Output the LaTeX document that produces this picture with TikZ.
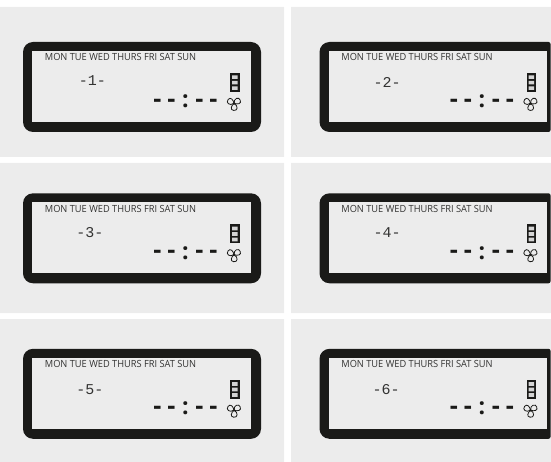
\documentclass[tikz,border=0pt]{standalone}
\usepackage{fontspec}
\setmainfont{Open Sans}
\newfontfamily\monof{Liberation Mono}
\definecolor{panelgray}{HTML}{ECECEC}
\definecolor{lcdblack}{HTML}{1A1A18}
\definecolor{lcdtext}{HTML}{333332}
\definecolor{cellgray}{HTML}{D4D4D4}
\tikzset{
  days/.style={inner sep=0pt,text=lcdtext,anchor=west},
  modeno/.style={inner sep=0pt,text=lcdtext,font=\monof\fontsize{15}{16}\selectfont},
  clocktext/.style={inner sep=0pt,text=lcdblack,anchor=base},
  blade/.style={draw=lcdblack,line width=0.8pt,fill=panelgray},
}
% #1 x offset, #2 y offset, #3 label, #4 label x, #5 label y, #6 outer right, #7 right radius, #8 name
\newcommand{\lcdunit}[8]{%
  \begin{scope}[shift={(#1,#2)}]
    \fill[lcdblack] (120,42) [rounded corners=10pt] -- (23,42) -- (23,132) -- (120,132)
      [rounded corners=#7pt] -- (#6,132) -- (#6,42) -- cycle;
    \fill[panelgray] (32.4,51) rectangle (250.9,121.7);
    \node[days] (days#8) at (44.7,57.3) {\resizebox{151.3pt}{!}{\fontsize{8.9}{10}\selectfont\addfontfeature{FakeStretch=0.94} MON TUE WED THURS FRI SAT SUN}};
    \node[modeno] (mode#8) at (#4,#5) {-#3-};
    \node[clocktext] (clock#8) at (185.5,107.6) {%
      \fontsize{25}{25}\fontseries{b}\selectfont
      \makebox[14pt]{-}\makebox[14pt]{-}\makebox[14pt]{\raisebox{-0.4pt}{\fontsize{23}{23}\selectfont :}}\makebox[14pt]{-}\makebox[14pt]{-}};
    \fill[lcdblack] (230,73) rectangle (239.6,92);
    \fill[cellgray] (232,75.3) rectangle (237.6,79) (232,80.8) rectangle (237.6,84.5) (232,86.3) rectangle (237.6,90);
    \begin{scope}[shift={(234,103.4)}]
      \foreach \a in {20,140,260}
        \draw[blade,rotate=\a] (0,0) .. controls (1.5,-5) and (7,-5) .. (7,-0.8) .. controls (7,3) and (3,2.4) .. (0,0) -- cycle;
      \fill[lcdblack] (0,0) circle (1.4);
    \end{scope}
  \end{scope}}
\begin{document}
\begin{tikzpicture}[x=1pt,y=-1pt]
\useasboundingbox (0,0) rectangle (551,462);
\fill[panelgray] (0,7) rectangle (284,157) (291,7) rectangle (551,157)
  (0,163) rectangle (284,313) (291,163) rectangle (551,313)
  (0,319) rectangle (284,462) (291,319) rectangle (551,462);
\lcdunit{0}{0}{1}{92.5}{81}{261}{10}{a}
\lcdunit{296.5}{0}{2}{90.5}{82}{254}{2}{b}
\lcdunit{0}{151.3}{3}{90}{81}{261}{10}{c}
\lcdunit{296.5}{151.3}{4}{90.5}{81}{254}{2}{d}
\lcdunit{0}{306.8}{5}{90}{82.5}{261}{10}{e}
\lcdunit{296.5}{306.8}{6}{89.5}{83}{254}{2}{f}
\end{tikzpicture}
\end{document}
